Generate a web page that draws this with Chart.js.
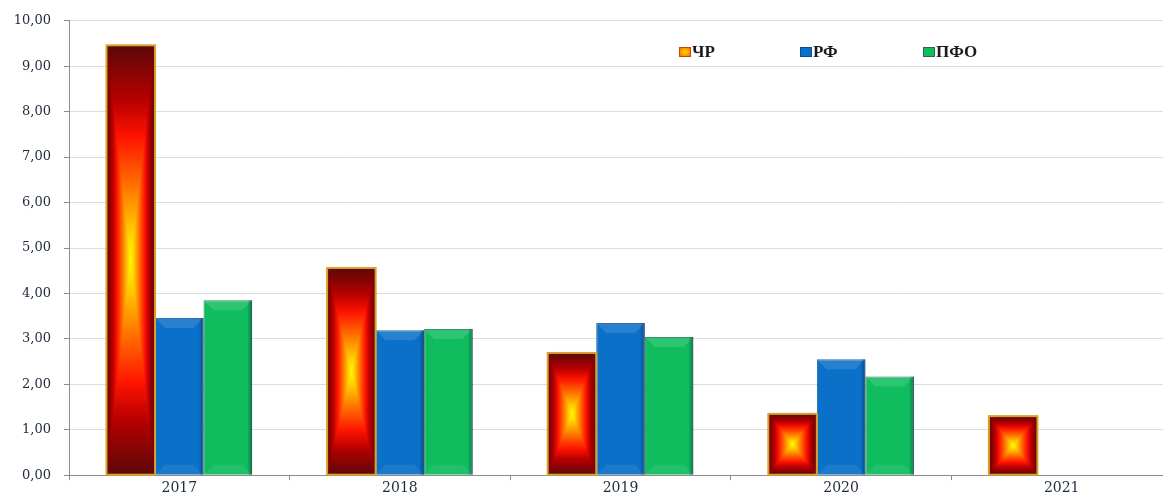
<!DOCTYPE html>
<html>
<head>
<meta charset="utf-8">
<script src="https://cdn.jsdelivr.net/npm/chart.js@4.4.0/dist/chart.umd.min.js"></script>
<style>
    html, body { margin: 0; padding: 0; background: #fff; overflow: hidden; }
    #wrap { position: relative; width: 1180px; height: 496px; }
    #legend { position: absolute; top: 42px; left: 0; font-family: "Liberation Serif", serif; font-weight: bold; font-size: 17px; color: #1a1a1a; }
    #legend .item { position: absolute; white-space: nowrap; line-height: 20px; }
    #legend .box { display: inline-block; width: 12px; height: 10px; margin-right: 1px; vertical-align: 0px; box-sizing: border-box; }
</style>
</head>
<body>
<div id="wrap">
    <canvas id="chart"></canvas>
    <div id="legend">
        <span class="item" style="left:679px"><span class="box" style="background: radial-gradient(#ffe000, #ff6a00); border: 1px solid #c84a00;"></span>ЧР</span>
        <span class="item" style="left:800px"><span class="box" style="background: #0b70c8; border: 1px solid #0a4f8e;"></span>РФ</span>
        <span class="item" style="left:923px"><span class="box" style="background: #10bd5e; border: 1px solid #2a6a50;"></span>ПФО</span>
    </div>
</div>
<script>
// chart data
const years = ['2017', '2018', '2019', '2020', '2021'];
const seriesNames = ['ЧР', 'РФ', 'ПФО'];
const chrValues = [9.46, 4.56, 2.69, 1.35, 1.30];
const rfValues = [3.46, 3.19, 3.35, 2.55, null];
const pfoValues = [3.85, 3.22, 3.04, 2.17, null];
const yTicks = [0, 1, 2, 3, 4, 5, 6, 7, 8, 9, 10];

// colour stops for the "pyramid" fill of ЧР bars (edge -> centre)
const pyramidStops = [
    [0.00, [95, 8, 8]],
    [0.25, [185, 0, 0]],
    [0.42, [255, 20, 0]],
    [0.66, [255, 120, 0]],
    [0.86, [255, 205, 0]],
    [1.00, [255, 255, 0]]
];

function stopColor(t) {
    for (let i = 1; i < pyramidStops.length; i++) {
        const [t1, c1] = pyramidStops[i];
        const [t0, c0] = pyramidStops[i - 1];
        if (t <= t1) {
            const k = (t - t0) / (t1 - t0);
            const c = c0.map((v, j) => Math.round(v + (c1[j] - v) * k));
            return `rgb(${c[0]},${c[1]},${c[2]})`;
        }
    }
    return 'rgb(255,255,0)';
}

// draws the gradient bevels on top of the plain bars
const barStyler = {
    id: 'barStyler',
    afterDatasetDraw(chart, args) {
        const ctx = chart.ctx;
        const meta = args.meta;
        ctx.save();
        meta.data.forEach(bar => {
            const p = bar.getProps(['x', 'y', 'base', 'width'], true);
            if (p.y == null || isNaN(p.y)) return;
            const left = p.x - p.width / 2;
            const top = Math.min(p.y, p.base);
            const w = p.width;
            const h = Math.abs(p.base - p.y);
            if (h < 1) return;

            if (args.index === 0) {
                const steps = 60;
                for (let i = 0; i < steps; i++) {
                    const t = i / steps;
                    ctx.fillStyle = stopColor(t);
                    ctx.fillRect(left + t * w / 2, top + t * h / 2, w * (1 - t), h * (1 - t));
                }
                ctx.strokeStyle = '#d9a22a';
                ctx.lineWidth = 2;
                ctx.strokeRect(left, top, w, h);
            } else {
                const bev = Math.min(10, h / 2);
                // lighter top bevel
                ctx.fillStyle = 'rgba(255,255,255,0.12)';
                ctx.beginPath();
                ctx.moveTo(left, top);
                ctx.lineTo(left + w, top);
                ctx.lineTo(left + w - bev, top + bev);
                ctx.lineTo(left + bev, top + bev);
                ctx.closePath();
                ctx.fill();
                // lighter bottom bevel
                ctx.fillStyle = 'rgba(255,255,255,0.07)';
                ctx.beginPath();
                ctx.moveTo(left, top + h);
                ctx.lineTo(left + w, top + h);
                ctx.lineTo(left + w - bev, top + h - bev);
                ctx.lineTo(left + bev, top + h - bev);
                ctx.closePath();
                ctx.fill();
                // darker right edge
                const g = ctx.createLinearGradient(left + w - 5, 0, left + w, 0);
                g.addColorStop(0, 'rgba(0,30,60,0)');
                g.addColorStop(1, 'rgba(0,30,60,0.45)');
                ctx.fillStyle = g;
                ctx.fillRect(left + w - 5, top, 5, h);
            }
        });
        ctx.restore();
    }
};

const tickFont = { family: '"DejaVu Serif", serif', size: 13 };

new Chart(document.getElementById('chart'), {
    type: 'bar',
    data: {
        labels: years,
        datasets: [
            { label: seriesNames[0], data: chrValues, backgroundColor: '#e81000', borderWidth: 0 },
            { label: seriesNames[1], data: rfValues, backgroundColor: '#0b70c8', borderColor: '#1e5f9c', borderWidth: 1 },
            { label: seriesNames[2], data: pfoValues, backgroundColor: '#10bd5e', borderColor: '#2a7a58', borderWidth: 1 }
        ]
    },
    options: {
        responsive: true,
        maintainAspectRatio: false,
        animation: false,
        layout: { padding: { top: 20, right: 8, left: 0, bottom: 0 } },
        datasets: { bar: { categoryPercentage: 0.66, barPercentage: 1.0 } },
        plugins: {
            legend: { display: false },
            tooltip: { enabled: false }
        },
        scales: {
            x: {
                grid: { drawOnChartArea: false, drawTicks: true, tickLength: 5, tickColor: '#8c8c8c' },
                border: { color: '#8c8c8c', width: 1 },
                ticks: { color: '#1f2a3c', font: { family: '"DejaVu Serif", serif', size: 14 }, padding: 0 },
                afterFit: (scale) => { scale.height = 19; }
            },
            y: {
                min: 0,
                max: 10,
                afterBuildTicks: (scale) => { scale.ticks = yTicks.map(v => ({ value: v })); },
                grid: { color: '#dcdcdc', tickColor: '#8c8c8c', tickLength: 5 },
                border: { color: '#8c8c8c', width: 1 },
                ticks: {
                    color: '#1f2a3c',
                    font: tickFont,
                    padding: 13,
                    callback: (v) => Number(v).toFixed(2).replace('.', ',')
                },
                afterFit: (scale) => { scale.width = 69; }
            }
        }
    },
    plugins: [barStyler]
});
</script>
</body>
</html>
